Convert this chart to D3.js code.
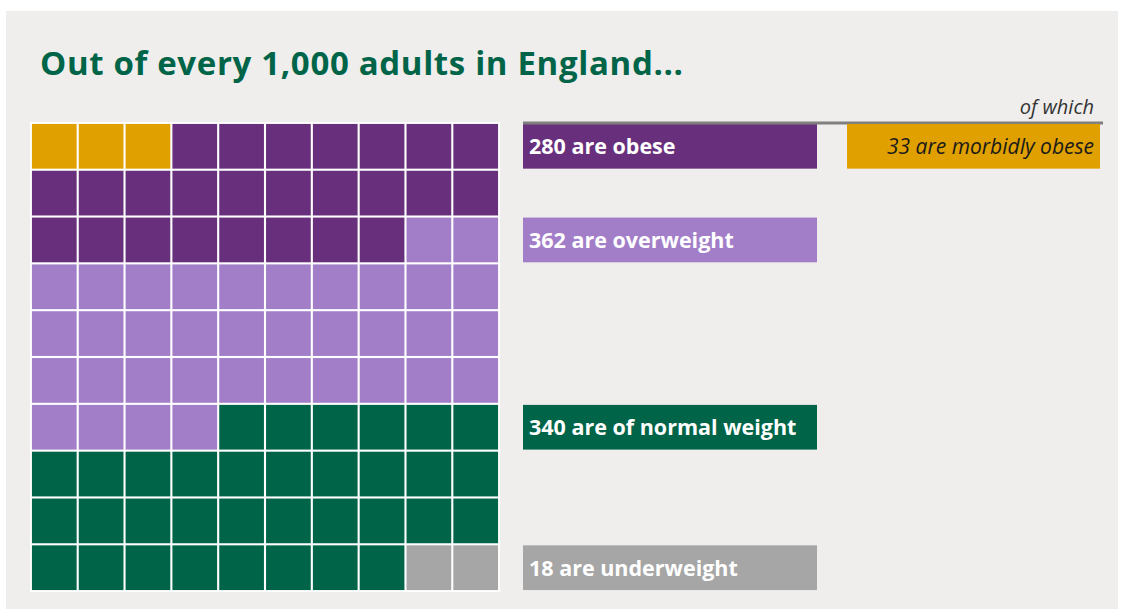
<!DOCTYPE html>
<html>
<head>
<meta charset="utf-8">
<script src="https://cdn.jsdelivr.net/npm/d3@7"></script>
<style>
  body { margin: 0; background: #fff; }
</style>
</head>
<body>
<div id="chart"></div>
<script>
// categories, top of grid first
var categories = ["obese", "overweight", "normal", "underweight"];
var counts = [280, 362, 340, 18];          // per 1,000 adults
var cells = [28, 36, 34, 2];               // squares out of 100
var labels = ["280 are obese", "362 are overweight", "340 are of normal weight", "18 are underweight"];
var colors = ["#68307c", "#a27ec8", "#006548", "#a6a6a6"];
var morbidCells = 3;
var morbidLabel = "33 are morbidly obese";

var width = 1126, height = 613;

var svg = d3.select("#chart")
    .append("svg")
    .attr("width", width)
    .attr("height", height);

// panel
svg.append("rect")
    .attr("x", 6).attr("y", 11)
    .attr("width", 1112).attr("height", 598)
    .attr("fill", "#efeeec");

var title = svg.append("text")
    .attr("x", 40)
    .attr("y", 75)
    .text("Out of every 1,000 adults in England...")
    .attr("font-family", "Open Sans")
    .attr("font-weight", 700)
    .attr("font-size", "33px")
    .attr("fill", "#006548");
// squeeze/stretch to the reference width
title.attr("textLength", 643).attr("lengthAdjust", "spacing");

// waffle
var cols = d3.range(10);
var x = d3.scaleBand().domain(cols).range([31, 499]).paddingInner(0.045).paddingOuter(0.02);
var y = d3.scaleBand().domain(cols).range([123, 591]).paddingInner(0.045).paddingOuter(0.02);

var squares = [];
cells.forEach(function(n, ci) {
    for (var k = 0; k < n; k++) squares.push(ci);
});
squares = squares.map(function(ci, i) {
    return {i: i, cat: ci, row: Math.floor(i / 10), col: i % 10, morbid: i < morbidCells};
});

svg.append("rect")
    .attr("x", 30).attr("y", 122)
    .attr("width", 470).attr("height", 470)
    .attr("fill", "#fff");

svg.selectAll("rect.cell")
    .data(squares)
    .enter()
    .append("rect")
    .attr("class", "cell")
    .attr("x", function(d) { return x(d.col); })
    .attr("y", function(d) { return y(d.row); })
    .attr("width", x.bandwidth())
    .attr("height", y.bandwidth())
    .attr("fill", function(d) { return d.morbid ? "#e0a000" : colors[d.cat]; });

// label bars, each lined up with the first row of its category
var firstRow = [];
var acc = 0;
cells.forEach(function(n) { firstRow.push(Math.floor(acc / 10)); acc += n; });

var barX = 523, barW = 294;

svg.selectAll("rect.bar")
    .data(categories)
    .enter()
    .append("rect")
    .attr("class", "bar")
    .attr("x", barX)
    .attr("y", function(d, i) { return y(firstRow[i]); })
    .attr("width", barW)
    .attr("height", y.bandwidth())
    .attr("fill", function(d, i) { return colors[i]; });

svg.selectAll("text.lab")
    .data(categories)
    .enter()
    .append("text")
    .attr("class", "lab")
    .attr("x", barX + 6)
    .attr("y", function(d, i) { return y(firstRow[i]) + y.bandwidth() / 2 + 8; })
    .text(function(d, i) { return labels[i]; })
    .attr("font-family", "Open Sans")
    .attr("font-weight", 700)
    .attr("font-size", "21.5px")
    .attr("fill", "#fff");

// "of which" morbidly obese
svg.append("line")
    .attr("x1", barX).attr("x2", 1103)
    .attr("y1", 123).attr("y2", 123)
    .attr("stroke", "#7f7f7f")
    .attr("stroke-width", 3);

svg.append("text")
    .attr("x", 1094)
    .attr("y", 114)
    .text("of which")
    .attr("text-anchor", "end")
    .attr("font-family", "Open Sans")
    .attr("font-style", "italic")
    .attr("font-size", "20px")
    .attr("fill", "#333");

svg.append("rect")
    .attr("x", 847)
    .attr("y", y(0))
    .attr("width", 253)
    .attr("height", y.bandwidth())
    .attr("fill", "#e0a000");

svg.append("text")
    .attr("x", 1094)
    .attr("y", y(0) + y.bandwidth() / 2 + 8)
    .text(morbidLabel)
    .attr("text-anchor", "end")
    .attr("font-family", "Open Sans")
    .attr("font-style", "italic")
    .attr("font-size", "21px")
    .attr("fill", "#1a1a1a");
</script>
</body>
</html>
